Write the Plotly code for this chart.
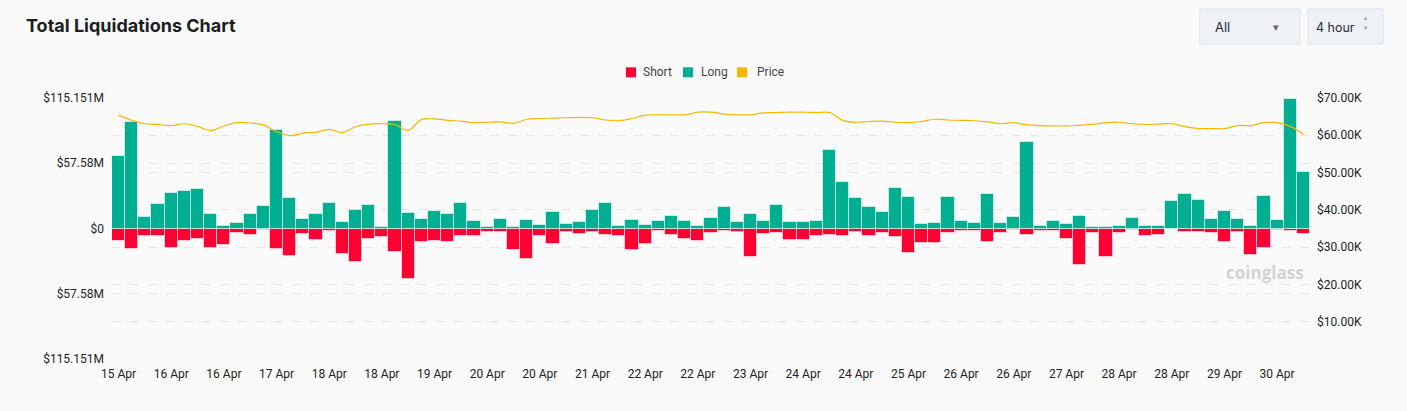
import plotly.graph_objects as go

# 4-hour buckets, 15 Apr 12:00 .. 30 Apr 12:00
tick_labels = ["15 Apr", "16 Apr", "16 Apr", "17 Apr", "18 Apr", "18 Apr", "19 Apr", "20 Apr",
               "20 Apr", "21 Apr", "22 Apr", "22 Apr", "23 Apr", "24 Apr", "24 Apr", "25 Apr",
               "26 Apr", "26 Apr", "27 Apr", "28 Apr", "28 Apr", "29 Apr", "30 Apr"]

# liquidations in $M
long_vals = [63.7, 93.6, 10.0, 21.4, 31.4, 32.9, 34.9, 12.9, 2.1, 5.0,
             12.9, 20.0, 86.6, 26.7, 8.5, 12.9, 22.6, 5.9, 16.4, 20.5,
             1.5, 94.5, 13.8, 8.2, 15.3, 12.9, 22.9, 6.5, 0.9, 8.5,
             1.5, 7.6, 3.2, 14.4, 4.4, 5.3, 16.1, 22.6, 2.1, 7.3,
             3.5, 7.0, 11.4, 6.2, 2.6, 9.1, 18.8, 5.3, 13.2, 6.5,
             20.5, 5.3, 5.9, 6.2, 69.6, 40.8, 26.7, 19.1, 14.7, 35.5,
             28.2, 3.8, 4.7, 27.6, 6.2, 4.7, 30.2, 5.0, 10.3, 76.0,
             2.1, 6.8, 3.8, 11.2, 1.5, 1.5, 2.6, 9.7, 2.6, 2.1,
             24.7, 30.5, 25.2, 8.5, 15.3, 8.5, 2.6, 29.1, 7.3, 114.2,
             49.9]
short_vals = [11.2, 18.2, 6.5, 7.0, 17.0, 11.2, 9.4, 17.3, 14.4, 4.4,
              5.3, 0.9, 18.5, 24.7, 4.7, 10.3, 2.1, 22.9, 29.4, 9.7,
              7.6, 21.1, 44.9, 12.0, 11.2, 12.3, 6.2, 6.2, 3.5, 3.2,
              19.1, 27.3, 6.2, 13.8, 3.5, 4.7, 3.2, 5.6, 6.5, 19.4,
              14.1, 2.1, 5.6, 9.7, 11.4, 4.1, 2.3, 3.5, 25.5, 5.0,
              4.1, 10.3, 10.0, 6.2, 5.9, 6.2, 2.9, 7.0, 3.8, 7.3,
              21.7, 12.9, 13.2, 4.4, 2.6, 2.1, 11.7, 3.8, 0.9, 5.9,
              1.8, 2.3, 9.4, 32.3, 4.1, 25.5, 4.4, 1.5, 6.2, 5.9,
              0.6, 2.9, 3.5, 4.4, 12.0, 3.2, 23.8, 17.6, 0.9, 1.8,
              5.0]
# BTC price in $K
price_vals = [65.4, 64.0, 63.1, 62.9, 62.6, 63.1, 62.4, 61.3, 62.5, 63.4,
              63.3, 62.8, 61.0, 59.9, 60.6, 60.8, 61.6, 60.7, 62.3, 63.0,
              63.1, 62.9, 61.3, 64.2, 64.4, 64.0, 63.8, 63.4, 63.5, 63.6,
              63.2, 64.3, 64.5, 64.6, 64.7, 64.8, 64.7, 64.1, 63.9, 64.5,
              65.4, 65.5, 65.5, 65.5, 66.2, 66.2, 65.7, 65.5, 65.5, 66.0,
              66.1, 66.2, 66.2, 66.1, 66.1, 64.0, 63.5, 63.7, 63.8, 63.5,
              63.4, 63.7, 64.3, 64.1, 64.0, 63.9, 63.6, 63.1, 63.4, 62.8,
              62.6, 62.5, 62.5, 62.7, 62.9, 63.4, 63.5, 63.1, 62.9, 63.0,
              63.1, 62.3, 61.8, 61.8, 61.8, 62.6, 62.6, 63.4, 63.4, 62.4,
              60.3]

x = list(range(len(long_vals)))
LIM = 115.151
SHORT_COLOR, LONG_COLOR, PRICE_COLOR = "#ff0033", "#00ae91", "#f5b800"

fig = go.Figure()
fig.add_trace(go.Bar(x=x, y=[-v for v in short_vals], name="Short", marker_color=SHORT_COLOR,
                     marker_line=dict(color="rgba(255,255,255,0.55)", width=1)))
fig.add_trace(go.Bar(x=x, y=long_vals, name="Long", marker_color=LONG_COLOR,
                     marker_line=dict(color="rgba(255,255,255,0.55)", width=1)))
fig.add_trace(go.Scatter(x=x, y=[p * 1000 for p in price_vals], name="Price", yaxis="y2",
                         mode="lines", line=dict(color=PRICE_COLOR, width=1.2, shape="spline")))

grid = dict(showgrid=True, gridcolor="#e6e6e6", griddash="dash", gridwidth=1)
fig.update_layout(
    width=1407, height=411,
    paper_bgcolor="#fafafa", plot_bgcolor="#fafafa",
    margin=dict(l=112, r=97, t=98, b=52),
    barmode="relative", bargap=0,
    font=dict(family="Roboto", size=12, color="#222"),
    showlegend=False,
    xaxis=dict(range=[-0.5, len(x) - 0.5], tickvals=x[::4], ticktext=tick_labels,
               showgrid=False, zeroline=False, ticks="", ticklabelstandoff=6,
               tickfont=dict(size=12, color="#222")),
    yaxis=dict(range=[-LIM, LIM], tickvals=[-LIM, -57.58, 0, 57.58, LIM],
               ticktext=["$115.151M", "$57.58M", "$0", "$57.58M", "$115.151M"],
               zeroline=False, ticks="", ticklabelstandoff=7, **grid),
    yaxis2=dict(overlaying="y", side="right", range=[0, 70000],
                tickvals=[10000, 20000, 30000, 40000, 50000, 60000, 70000],
                ticktext=["$10.00K", "$20.00K", "$30.00K", "$40.00K", "$50.00K", "$60.00K", "$70.00K"],
                zeroline=False, ticks="", ticklabelstandoff=6, **grid),
)

# legend drawn by hand: square swatches, tight spacing
for name, color, x0, tx in [("Short", SHORT_COLOR, 0.4290, 0.4416),
                            ("Long", LONG_COLOR, 0.4766, 0.4897),
                            ("Price", PRICE_COLOR, 0.5217, 0.5367)]:
    fig.add_shape(type="rect", xref="paper", yref="paper", x0=x0, x1=x0 + 0.0084,
                  y0=1.0793, y1=1.1176, fillcolor=color, line_width=0)
    fig.add_annotation(text=name, xref="paper", yref="paper", x=tx, y=1.0996, xanchor="left",
                       yanchor="middle", showarrow=False, font=dict(size=12, color="#444"))

# header title and the two selector boxes
fig.add_annotation(text="<b>Total Liquidations Chart</b>", xref="paper", yref="paper",
                   x=-0.0735, y=1.276, xanchor="left", yanchor="middle", showarrow=False,
                   font=dict(family="Inter", size=18, color="#1b1e22"))
fig.add_shape(type="rect", xref="paper", yref="paper", x0=0.908, x1=0.9917, y0=1.207, y1=1.341,
              fillcolor="#eef2f7", line=dict(color="#dde4ee", width=1))
fig.add_shape(type="rect", xref="paper", yref="paper", x0=0.9983, x1=1.061, y0=1.207, y1=1.341,
              fillcolor="#eef2f7", line=dict(color="#dde4ee", width=1))
fig.add_annotation(text="All", xref="paper", yref="paper", x=0.919, y=1.272, xanchor="left",
                   yanchor="middle", showarrow=False, font=dict(family="Inter", size=13, color="#2a2e35"))
fig.add_annotation(text="▾", xref="paper", yref="paper", x=0.9758, y=1.272, yanchor="middle",
                   showarrow=False, font=dict(size=11, color="#666"))
fig.add_annotation(text="4 hour", xref="paper", yref="paper", x=1.0035, y=1.272, xanchor="left",
                   yanchor="middle", showarrow=False, font=dict(family="Inter", size=12.5, color="#2a2e35"))
fig.add_annotation(text="˄", xref="paper", yref="paper", x=1.0505, y=1.29, yanchor="middle",
                   showarrow=False, font=dict(family="DejaVu Sans", size=10, color="#666"))
fig.add_annotation(text="˅", xref="paper", yref="paper", x=1.0505, y=1.254, yanchor="middle",
                   showarrow=False, font=dict(family="DejaVu Sans", size=10, color="#666"))

# watermark
fig.add_annotation(text="<b>coinglass</b>", xref="paper", yref="paper", x=0.997, y=0.33,
                   xanchor="right", yanchor="middle", showarrow=False,
                   font=dict(family="Open Sans", size=17, color="#d2d2d2"))

fig.write_html("out.html", config={"displayModeBar": False},
               post_script="document.body.style.margin='0';document.body.style.background='#fafafa';")
